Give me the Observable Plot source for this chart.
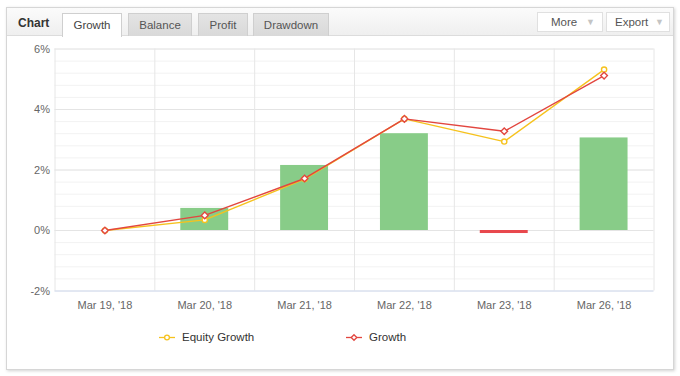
<!DOCTYPE html>
<html>
<head>
<meta charset="utf-8">
<script src="https://cdn.jsdelivr.net/npm/d3@7"></script>
<script src="https://cdn.jsdelivr.net/npm/@observablehq/plot@0.6"></script>
<style>
  html, body { margin: 0; padding: 0; background: #fff; }
  body { width: 680px; height: 376px; position: relative; overflow: hidden;
         font-family: "Liberation Sans", Arial, Helvetica, sans-serif; }
  .abs { position: absolute; box-sizing: border-box; }
  #frame { left: 6px; top: 7px; width: 668px; height: 363px; border: 1px solid #d6d6d6;
           box-shadow: 1px 1px 3px rgba(0,0,0,0.18); background: #fff; }
  #header { left: 7px; top: 8px; width: 666px; height: 28px;
            background: linear-gradient(#fbfbfb, #efefef); border-bottom: 1px solid #dcdcdc; }
  .tab { top: 13px; height: 23px; border: 1px solid #cfcfcf; border-bottom: none;
         background: linear-gradient(#e4e4e4, #d9d9d9); color: #555; font-size: 11.5px;
         text-align: center; line-height: 22px; }
  .tab.active { background: #fff; height: 24px; color: #444; }
  #chartlbl { left: 18px; top: 16px; font-size: 12px; font-weight: bold; color: #333; }
  .btn { top: 12px; height: 20px; background: #fff; border: 1px solid #e0e0e0; color: #555;
         font-size: 11.5px; line-height: 19px; }
  .btn span { color: #c4c4c4; font-size: 9px; position: absolute; top: 0px; }
  #chart { left: 0; top: 36px; }
  .leg { top: 330px; font-size: 11.5px; color: #333; line-height: 15px; }
  .leg svg { position: absolute; left: -23px; top: 0px; }
</style>
</head>
<body>
<div id="frame" class="abs"></div>
<div id="header" class="abs"></div>
<div id="chartlbl" class="abs">Chart</div>
<div class="abs tab active" style="left:62px;width:60px;">Growth</div>
<div class="abs tab" style="left:128px;width:64px;">Balance</div>
<div class="abs tab" style="left:198px;width:50px;">Profit</div>
<div class="abs tab" style="left:253px;width:76px;">Drawdown</div>
<div class="abs btn" style="left:537px;width:66px;padding-left:13px;">More<span style="right:7px">▼</span></div>
<div class="abs btn" style="left:606px;width:64px;padding-left:8px;">Export<span style="right:5px">▼</span></div>
<div id="chart" class="abs"></div>
<div id="legend"></div>
<script>
const dates = ["Mar 19, '18", "Mar 20, '18", "Mar 21, '18", "Mar 22, '18", "Mar 23, '18", "Mar 26, '18"];
const growth = [0, 0.50, 1.72, 3.69, 3.28, 5.12];
const equityGrowth = [0, 0.35, 1.70, 3.69, 2.94, 5.32];
const dailyBars = [null, 0.73, 2.15, 3.20, -0.10, 3.06];
const yTicks = [-2, 0, 2, 4, 6];
const yMinorStep = 0.4;
const seriesNames = ["Equity Growth", "Growth"];

const colors = {growth: "#e2463f", equity: "#f6c21d", barPos: "#88cc88", barNeg: "#e8484d"};

const rows = dates.map((d, i) => ({date: d, growth: growth[i], equity: equityGrowth[i], bar: dailyBars[i]}));
const minor = d3.range(yTicks[0], yTicks[yTicks.length - 1] + 1e-9, yMinorStep);

const W = 680, H = 290, ML = 54.5, MR = 26.5, MT = 12.5, MB = 35.5;
const bw = (W - ML - MR) / dates.length;
const inset = bw * 0.26;

const chart = Plot.plot({
  width: W, height: H,
  marginLeft: ML, marginRight: MR, marginTop: MT, marginBottom: MB,
  style: {fontFamily: "'Liberation Sans', Arial, Helvetica, sans-serif", fontSize: "11px", color: "#666", background: "transparent"},
  x: {type: "band", domain: dates, padding: 0, round: false, tickSize: 0, tickPadding: 10, label: null},
  y: {domain: [yTicks[0], yTicks[yTicks.length - 1]], ticks: yTicks, tickFormat: d => d + "%", tickSize: 0, tickPadding: 5, label: null},
  marks: [
    Plot.ruleY(minor, {stroke: "#f2f2f2"}),
    Plot.ruleY(yTicks.slice(1), {stroke: "#e4e4e4"}),
    Plot.ruleX(dates, {x: d => d, dx: -bw / 2, stroke: "#e6e6e6"}),
    Plot.ruleX(dates.slice(-1), {x: d => d, dx: bw / 2, stroke: "#e6e6e6"}),
    Plot.ruleY(yTicks.slice(0, 1), {stroke: "#ccd6eb"}),
    Plot.barY(rows.filter(r => r.bar != null && r.bar >= 0), {x: "date", y: "bar", fill: colors.barPos, insetLeft: inset, insetRight: inset}),
    Plot.barY(rows.filter(r => r.bar != null && r.bar < 0), {x: "date", y: "bar", fill: colors.barNeg, insetLeft: inset, insetRight: inset}),
    Plot.lineY(rows, {x: "date", y: "equity", stroke: colors.equity, strokeWidth: 1.4}),
    Plot.lineY(rows, {x: "date", y: "growth", stroke: colors.growth, strokeWidth: 1.4}),
    Plot.dot(rows, {x: "date", y: "equity", r: 2.6, stroke: colors.equity, fill: "#fff", strokeWidth: 1.4}),
    Plot.dot(rows, {x: "date", y: "growth", r: 3, symbol: "diamond2", stroke: colors.growth, fill: "#fff", strokeWidth: 1.4})
  ]
});
document.getElementById("chart").appendChild(chart);

// legend
const legend = document.getElementById("legend");
const legItems = [
  {name: seriesNames[0], color: colors.equity, symbol: "circle", left: 182},
  {name: seriesNames[1], color: colors.growth, symbol: "diamond", left: 369}
];
for (const it of legItems) {
  const div = document.createElement("div");
  div.className = "abs leg";
  div.style.left = it.left + "px";
  div.textContent = it.name;
  const sym = it.symbol === "circle"
    ? `<circle cx="8" cy="7.5" r="2.4" fill="#fff" stroke="${it.color}" stroke-width="1.3"/>`
    : `<path d="M8 4.7 L10.8 7.5 L8 10.3 L5.2 7.5 Z" fill="#fff" stroke="${it.color}" stroke-width="1.3"/>`;
  div.insertAdjacentHTML("afterbegin",
    `<svg width="16" height="15"><line x1="0" x2="16" y1="7.5" y2="7.5" stroke="${it.color}" stroke-width="1.3"/>${sym}</svg>`);
  legend.appendChild(div);
}
</script>
</body>
</html>
